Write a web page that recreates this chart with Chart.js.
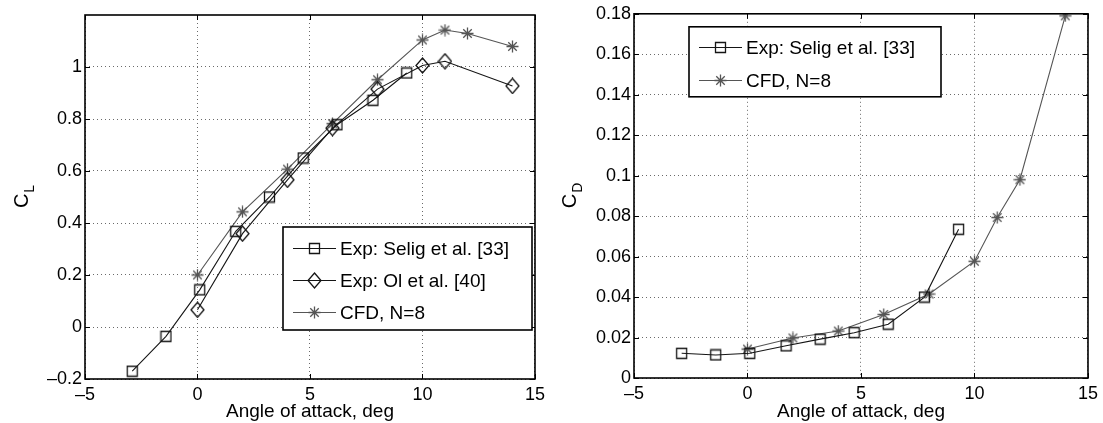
<!DOCTYPE html>
<html lang="en">
<head>
<meta charset="UTF-8">
<title>Lift and drag vs angle of attack</title>
<style>
  html, body { margin: 0; padding: 0; background: #fff; }
  .wrap { position: absolute; top: 0; height: 423px; }
  #leftWrap { left: 0; width: 550px; }
  #rightWrap { left: 550px; width: 553px; }
</style>
</head>
<body>
<div class="wrap" id="leftWrap"><canvas id="clChart"></canvas></div>
<div class="wrap" id="rightWrap"><canvas id="cdChart"></canvas></div>

<script src="https://cdn.jsdelivr.net/npm/chart.js"></script>
<script>
// Exp: Selig et al. [33]
const seligAlpha = [-2.9, -1.4, 0.1, 1.7, 3.2, 4.7, 6.2, 7.8, 9.3];
const seligCL = [-0.17, -0.036, 0.143, 0.368, 0.50, 0.65, 0.778, 0.872, 0.977];
const seligCD = [0.0122, 0.0114, 0.0122, 0.0159, 0.0192, 0.0224, 0.0266, 0.0400, 0.0735];
// Exp: Ol et al. [40]
const olAlpha = [0, 2, 4, 6, 8, 10, 11, 14];
const olCL = [0.066, 0.359, 0.566, 0.765, 0.915, 1.006, 1.022, 0.927];
// CFD, N=8
const cfdAlpha = [0, 2, 4, 6, 8, 10, 11, 12, 14];
const cfdCL = [0.20, 0.443, 0.607, 0.782, 0.951, 1.104, 1.142, 1.129, 1.079];
const cfdCD = [0.0143, 0.0198, 0.0232, 0.0314, 0.0415, 0.0577, 0.0793, 0.098, 0.179];

const xTicks = [-5, 0, 5, 10, 15];
const clTicks = [-0.2, 0, 0.2, 0.4, 0.6, 0.8, 1];
const cdTicks = [0, 0.02, 0.04, 0.06, 0.08, 0.1, 0.12, 0.14, 0.16, 0.18];

const FONT = "'Liberation Sans', Arial, Helvetica, sans-serif";
const DARK = '#151515';
const GREY = '#555555';

// matlab-ish marker glyphs, drawn once and used as pointStyle
function marker(kind, color) {
    const c = document.createElement('canvas');
    const w = kind === 'diamond' ? 15 : 13;
    const h = kind === 'diamond' ? 17 : 13;
    c.width = w;
    c.height = h;
    const g = c.getContext('2d');
    g.strokeStyle = color;
    g.lineWidth = 1.3;
    g.beginPath();
    if (kind === 'square') {
        g.rect(1.5, 1.5, 10, 10);
    } else if (kind === 'diamond') {
        g.moveTo(7.5, 1); g.lineTo(14, 8.5); g.lineTo(7.5, 16); g.lineTo(1, 8.5); g.closePath();
    } else {
        const r = 6;
        for (let k = 0; k < 4; k++) {
            const a = k * Math.PI / 4;
            g.moveTo(6.5 + r * Math.cos(a), 6.5 + r * Math.sin(a));
            g.lineTo(6.5 - r * Math.cos(a), 6.5 - r * Math.sin(a));
        }
    }
    g.stroke();
    return c;
}

const pts = (xs, ys) => xs.map((x, i) => ({ x: x, y: ys[i] }));
const fmt = (v) => {
    const s = String(+v.toFixed(4));
    return s.replace('-', '\u2013');
};

function series(label, xs, ys, color, kind) {
    return {
        label: label,
        data: pts(xs, ys),
        showLine: true,
        borderColor: color,
        borderWidth: 1.1,
        pointStyle: marker(kind, color),
        pointRadius: 6,
        tension: 0,
    };
}

// box, inward ticks, legend and subscripted y title
const matlabAxes = {
    id: 'matlabAxes',
    afterDatasetsDraw(chart, args, opts) {
        const { ctx, chartArea: a } = chart;
        const xs = chart.scales.x, ys = chart.scales.y;
        ctx.save();
        ctx.strokeStyle = '#000';
        ctx.lineWidth = 1;
        ctx.beginPath();
        xs.ticks.forEach((t) => {
            const px = Math.round(xs.getPixelForValue(t.value)) + 0.5;
            ctx.moveTo(px, a.bottom); ctx.lineTo(px, a.bottom - 5);
            ctx.moveTo(px, a.top); ctx.lineTo(px, a.top + 5);
        });
        ys.ticks.forEach((t) => {
            const py = Math.round(ys.getPixelForValue(t.value)) + 0.5;
            ctx.moveTo(a.left, py); ctx.lineTo(a.left + 5, py);
            ctx.moveTo(a.right, py); ctx.lineTo(a.right - 5, py);
        });
        ctx.stroke();

        ctx.lineWidth = 1.6;
        ctx.strokeRect(a.left, a.top, a.right - a.left, a.bottom - a.top);

        // legend
        const L = opts.legend;
        const lx = a.left + L.x, ly = a.top + L.y;
        ctx.fillStyle = '#fff';
        ctx.fillRect(lx, ly, L.w, L.h);
        ctx.lineWidth = 1.6;
        ctx.strokeRect(lx, ly, L.w, L.h);
        ctx.font = '19px ' + FONT;
        ctx.textBaseline = 'middle';
        ctx.textAlign = 'left';
        chart.data.datasets.forEach((ds, i) => {
            const y = Math.round(ly + L.first + i * L.gap) + 0.5;
            ctx.strokeStyle = ds.borderColor;
            ctx.lineWidth = 1;
            ctx.beginPath();
            ctx.moveTo(lx + 10, y); ctx.lineTo(lx + 53, y);
            ctx.stroke();
            const m = ds.pointStyle;
            ctx.drawImage(m, Math.round(lx + 31 - m.width / 2), Math.round(y - m.height / 2));
            ctx.fillStyle = '#000';
            ctx.fillText(ds.label, lx + 57, y + 1);
        });

        // y title: C with subscript
        const T = opts.yTitle;
        ctx.translate(T.x, (a.top + a.bottom) / 2);
        ctx.rotate(-Math.PI / 2);
        ctx.fillStyle = '#000';
        ctx.textBaseline = 'alphabetic';
        ctx.font = '20px ' + FONT;
        const wC = ctx.measureText(T.main).width;
        ctx.font = '14px ' + FONT;
        const wS = ctx.measureText(T.sub).width;
        const x0 = -(wC + wS) / 2;
        ctx.font = '20px ' + FONT;
        ctx.fillText(T.main, x0, 6);
        ctx.font = '14px ' + FONT;
        ctx.fillText(T.sub, x0 + wC + 1, 12);
        ctx.restore();
    }
};

function axisCfg(min, max, tickList, fitWidth, isX) {
    return {
        type: 'linear',
        min: min,
        max: max,
        border: { display: false, dash: [1, 3] },
        grid: { color: '#6a6a6a', lineWidth: 1, drawTicks: false },
        ticks: {
            color: '#000',
            font: { family: FONT, size: 18 },
            padding: isX ? 5 : 3,
            autoSkip: false,
            maxRotation: 0,
            callback: (v) => fmt(v),
        },
        afterBuildTicks: (s) => { s.ticks = tickList.map((v) => ({ value: v })); },
        afterFit: (s) => {
            if (isX) s.height = fitWidth; else s.width = fitWidth;
        },
        title: isX ? {
            display: true,
            text: 'Angle of attack, deg',
            color: '#000',
            font: { family: FONT, size: 19 },
            padding: { top: 0, bottom: 0 },
        } : { display: false },
    };
}

function makeChart(id, datasets, yMin, yMax, yTicks, pad, yW, xH, legend, yTitle) {
    return new Chart(document.getElementById(id), {
        type: 'scatter',
        data: { datasets: datasets },
        options: {
            responsive: true,
            maintainAspectRatio: false,
            animation: false,
            events: [],
            layout: { padding: pad },
            plugins: {
                legend: { display: false },
                tooltip: { enabled: false },
                matlabAxes: { legend: legend, yTitle: yTitle },
            },
            scales: {
                x: axisCfg(-5, 15, xTicks, xH, true),
                y: axisCfg(yMin, yMax, yTicks, yW, false),
            },
        },
        plugins: [matlabAxes],
    });
}

makeChart('clChart', [
    series('Exp: Selig et al. [33]', seligAlpha, seligCL, DARK, 'square'),
    series('Exp: Ol et al. [40]', olAlpha, olCL, DARK, 'diamond'),
    series('CFD, N=8', cfdAlpha, cfdCL, GREY, 'star'),
], -0.2, 1.2, clTicks, { top: 15, right: 11, left: 0, bottom: 0 }, 85, 44,
    { x: 198, y: 212, w: 249, h: 103, first: 20.5, gap: 32.3 },
    { x: 22, main: 'C', sub: 'L' });

makeChart('cdChart', [
    series('Exp: Selig et al. [33]', seligAlpha, seligCD, DARK, 'square'),
    series('CFD, N=8', cfdAlpha, cfdCD, GREY, 'star'),
], 0, 0.18, cdTicks, { top: 10, right: 14, left: 0, bottom: 0 }, 84, 45,
    { x: 55, y: 13, w: 252, h: 70, first: 20.5, gap: 32.7 },
    { x: 20, main: 'C', sub: 'D' });
</script>
</body>
</html>
